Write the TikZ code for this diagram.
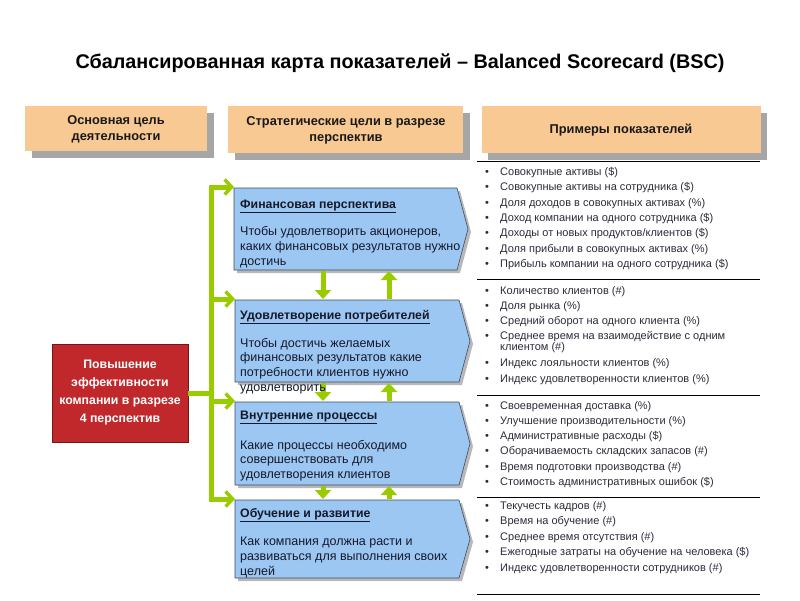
\documentclass[tikz,border=0pt]{standalone}
\usepackage{fontspec}
\setmainfont{Liberation Sans}
\usetikzlibrary{arrows.meta}
\definecolor{peach}{HTML}{F9C994}
\definecolor{shadowgrey}{HTML}{A6A6A6}
\definecolor{bluefill}{HTML}{9CC7F2}
\definecolor{blueedge}{HTML}{3C4C60}
\definecolor{lime}{HTML}{99CC00}
\definecolor{brick}{HTML}{C0282B}
\definecolor{brickedge}{HTML}{6E1818}
\definecolor{itemtxt}{HTML}{2B2B3B}
\definecolor{boxtxt}{HTML}{15192A}
\begin{document}
\begin{tikzpicture}[x=1pt,y=-1pt,
  hdrtext/.style={font=\bfseries\fontsize{12.8}{16}\selectfont, align=center, inner sep=0pt, text=black!90},
  itemtext/.style={anchor=base west, inner sep=0pt, font=\fontsize{11}{12}\selectfont, text=itemtxt},
  bodytext/.style={anchor=base west, inner sep=0pt, font=\fontsize{12.5}{14}\selectfont, text=boxtxt},
  titletext/.style={anchor=base west, inner sep=0pt, font=\bfseries\fontsize{12.3}{14}\selectfont, text=boxtxt},
  greenline/.style={draw=lime, line width=5pt},
  sidearrow/.style={greenline, -{Straight Barb[length=7pt,width=15pt,line width=3.5pt]}},
  vertarrow/.style={greenline, -{Triangle[length=9pt,width=16pt]}},
  sepline/.style={draw=black, line width=1pt},
  blueshape/.style={draw=blueedge, fill=bluefill, line width=0.6pt},
  bshadow/.style={fill=shadowgrey!80},
]
\useasboundingbox (0,0) rectangle (800,600);

% Title
\node[font=\bfseries\fontsize{19.8}{22}\selectfont] (title) at (400,63) {Сбалансированная карта показателей – Balanced Scorecard (BSC)};

% Header boxes
\fill[shadowgrey] (32,113) rectangle (214,158);
\fill[peach] (25,106) rectangle (207,151);
\node[hdrtext] (h1) at (116,129) {Основная цель\\деятельности};
\fill[shadowgrey] (235,113) rectangle (470,160);
\fill[peach] (228,106) rectangle (463,153);
\node[hdrtext] (h2) at (346,130) {Стратегические цели в разрезе\\перспектив};
\fill[shadowgrey] (488,113) rectangle (767,160);
\fill[peach] (482,106) rectangle (761,153);
\node[hdrtext] (h3) at (621,130) {Примеры показателей};

% Separator lines
\foreach \yy in {161,279,395,497,594} \draw[sepline] (477,\yy) -- (760,\yy);

% Red box
\node[draw=brickedge, fill=brick, line width=0.8pt, minimum width=136pt, minimum height=98pt, inner sep=0pt,
      font=\bfseries\fontsize{12.3}{18}\selectfont, text=white, align=center] (goal) at (120,393)
      {Повышение\\эффективности\\компании в разрезе\\4 перспектив};

% Green connectors
\coordinate (bartop) at (211,185.5);
\coordinate (barbot) at (211,501.5);
\coordinate (barmid) at (211,393);
\draw[greenline] (bartop) -- (barbot);
\draw[greenline] (goal.east) -- (barmid);

% Blue boxes
\foreach \l/\t/\b/\r/\tip/\n in {234/188/270/457/468/b1, 235/300/382/459/470/b2, 235/402/485/459/470/b3, 235/500/578/459/470/b4}{
  \pgfmathsetmacro\mid{(\t+\b)/2}
  \fill[bshadow] (\l+3,\t+3) -- (\r+3,\t+3) -- (\tip+3,\mid+3) -- (\r+3,\b+3) -- (\l+3,\b+3) -- cycle;
  \draw[blueshape] (\l,\t) -- (\r,\t) -- (\tip,\mid) -- (\r,\b) -- (\l,\b) -- cycle;
  \coordinate (\n-nw) at (\l,\t);
}

% side arrows
\foreach \n/\yy in {b1/187, b2/299, b3/401, b4/499}{
  \coordinate (\n-from) at (209,\yy);
  \draw[sidearrow] (\n-from) -- (\n-nw |- \n-from);
}

% vertical arrows
\coordinate (d1a) at (323,271); \coordinate (d1b) at (323,299);
\coordinate (u1a) at (389,299); \coordinate (u1b) at (389,271);
\coordinate (d2a) at (323,383); \coordinate (d2b) at (323,401);
\coordinate (u2a) at (389,401); \coordinate (u2b) at (389,383);
\coordinate (d3a) at (323,486); \coordinate (d3b) at (323,499);
\coordinate (u3a) at (389,499); \coordinate (u3b) at (389,486);
\foreach \a/\b in {d1a/d1b,u1a/u1b,d2a/d2b,u2a/u2b,d3a/d3b,u3a/u3b}
  \draw[vertarrow] (\a) -- (\b);

% Blue box texts
\node[titletext] (t1) at (240,208) {\underline{Финансовая перспектива}};
\foreach \s [count=\i] in {{Чтобы удовлетворить акционеров,},{каких финансовых результатов нужно},{достичь}}
  \node[bodytext] (p1-\i) at (240,235+15*\i-15) {\s};

\node[titletext] (t2) at (240,319) {\underline{Удовлетворение потребителей}};
\foreach \s [count=\i] in {{Чтобы достичь желаемых},{финансовых результатов какие},{потребности клиентов нужно},{удовлетворить}}
  \node[bodytext] (p2-\i) at (240,347+14.7*\i-14.7) {\s};

\node[titletext] (t3) at (240,419) {\underline{Внутренние процессы}};
\foreach \s [count=\i] in {{Какие процессы необходимо},{совершенствовать  для},{удовлетворения клиентов}}
  \node[bodytext] (p3-\i) at (240,449+14.6*\i-14.6) {\s};

\node[titletext] (t4) at (240,517) {\underline{Обучение и развитие}};
\foreach \s [count=\i] in {{Как компания должна расти и},{развиваться для выполнения своих},{целей}}
  \node[bodytext] (p4-\i) at (240,545.5+14.8*\i-14.8) {\s};

% Bullet lists
\foreach \s [count=\i] in {{Совокупные активы (\$)},{Совокупные активы на сотрудника (\$)},{Доля доходов в совокупных активах (\%)},{Доход компании на одного сотрудника (\$)},{Доходы от новых продуктов/клиентов (\$)},{Доля прибыли в совокупных активах (\%)},{Прибыль компании на одного сотрудника (\$)}}{
  \node[itemtext] (l1-\i) at (500,175.3+15.4*\i-15.4) {\s};
  \node[itemtext] (k1-\i) at (485,175.3+15.4*\i-15.4) {•};
}

\foreach \s/\yy [count=\i] in {{Количество клиентов (\#)}/294.2,{Доля рынка (\%)}/309.5,{Средний оборот на одного клиента (\%)}/324,{Среднее время на взаимодействие с одним}/339.5,{Индекс лояльности клиентов (\%)}/366.8,{Индекс удовлетворенности клиентов (\%)}/382.8}{
  \node[itemtext] (l2-\i) at (500,\yy) {\s};
  \node[itemtext] (k2-\i) at (485,\yy) {•};
}
\node[itemtext] (l2-x) at (500,350.5) {клиентом (\#)};

\foreach \s [count=\i] in {{Своевременная доставка (\%)},{Улучшение производительности (\%)},{Административные расходы (\$)},{Оборачиваемость складских запасов (\#)},{Время подготовки производства (\#)},{Стоимость административных ошибок (\$)}}{
  \node[itemtext] (l3-\i) at (500,409.2+15.2*\i-15.2) {\s};
  \node[itemtext] (k3-\i) at (485,409.2+15.2*\i-15.2) {•};
}

\foreach \s [count=\i] in {{Текучесть кадров (\#)},{Время на обучение (\#)},{Среднее время отсутствия (\#)},{Ежегодные затраты на обучение на человека (\$)},{Индекс удовлетворенности сотрудников (\#)}}{
  \node[itemtext] (l4-\i) at (500,509.5+15.4*\i-15.4) {\s};
  \node[itemtext] (k4-\i) at (485,509.5+15.4*\i-15.4) {•};
}
\end{tikzpicture}
\end{document}
